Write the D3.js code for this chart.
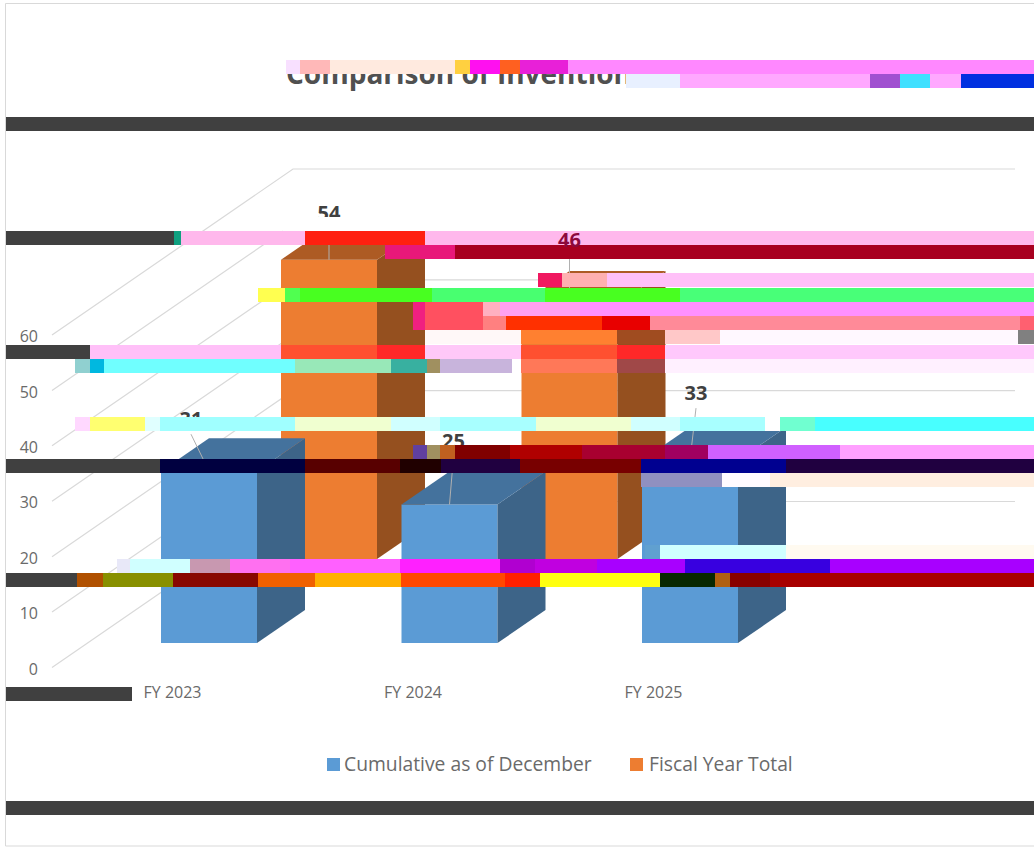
<!DOCTYPE html>
<html>
<head>
<meta charset="utf-8">
<script src="https://cdn.jsdelivr.net/npm/d3@7"></script>
<style>
html,body{margin:0;padding:0;background:#fff;overflow:hidden}
svg{display:block}
text{font-family:"Open Sans",sans-serif}
</style>
</head>
<body>
<svg id="c" width="1034" height="848"></svg>
<script>
const categories = ["FY 2023", "FY 2024", "FY 2025"];
const cumulative = [31, 25, 33];
const fiscalTotal = [54, 46, null];
const seriesNames = ["Cumulative as of December", "Fiscal Year Total"];
const yTicks = [0, 10, 20, 30, 40, 50, 60];
const titleText = "Comparison of Invention";

// Corrupted scan-line rows of the picture: top y, then [x0, x1, colour] runs
const rows = [
 [60,[[286,300,"#f8e0ff"],[300,330,"#ffb8b8"],[330,455,"#ffeadf"],[455,470,"#ffd040"],[470,500,"#ff10f0"],[500,520,"#ff6020"],[520,568,"#e820d8"],[568,1034,"#ff88ff"]]],
 [74,[[626,680,"#e8f0ff"],[680,870,"#ffa8ff"],[870,900,"#a050d0"],[900,930,"#40e0ff"],[930,961,"#ffa8ff"],[961,1034,"#0030e0"]]],
 [117,[[6,1034,"#404040"]]],
 [217,[[283,1034,"#ffffff"]]],
 [231,[[6,174,"#404040"],[174,181,"#10a080"],[181,305,"#ffb8ec"],[305,425,"#ff2010"],[425,1034,"#ffb8ec"]]],
 [245,[[385,455,"#e8187a"],[455,1034,"#a80020"]]],
 [273,[[538,562,"#f01860"],[562,607,"#ffb0b0"],[607,1034,"#ffc0f8"]]],
 [288,[[258,285,"#ffff50"],[285,300,"#50ff50"],[300,432,"#48ff20"],[432,545,"#48ff70"],[545,680,"#48ff20"],[680,1034,"#48ff78"]]],
 [302,[[413,425,"#f02080"],[425,483,"#ff5060"],[483,500,"#ffb0c0"],[500,580,"#ffa0f0"],[580,1034,"#ff90ff"]]],
 [316,[[413,425,"#f02080"],[425,483,"#ff5060"],[483,506,"#ff8080"],[506,602,"#ff3000"],[602,650,"#e80000"],[650,1020,"#ff8a98"],[1020,1034,"#ff6070"]]],
 [330,[[425,521,"#fff8f8"],[521,617,"#ff8030"],[617,665,"#a04c20"],[665,720,"#ffc8c8"],[720,1018,"#fff8ff"],[1018,1034,"#808080"]]],
 [345,[[6,90,"#404040"],[90,281,"#ffc0f8"],[281,377,"#ff5030"],[377,425,"#ff2828"],[425,521,"#ffc8f8"],[521,617,"#ff5030"],[617,665,"#ff2828"],[665,1034,"#ffc8fc"]]],
 [359,[[75,90,"#90d0d0"],[90,104,"#00b8e0"],[104,295,"#70ffff"],[295,391,"#98e8b8"],[391,427,"#38b0a0"],[427,440,"#a09060"],[440,512,"#c8b4dc"],[512,521,"#ffffff"],[521,617,"#ff7858"],[617,665,"#a04848"],[665,1034,"#fff0ff"]]],
 [417,[[75,90,"#ffd8ff"],[90,145,"#ffff70"],[145,160,"#e0ffff"],[160,295,"#a0ffff"],[295,391,"#f0ffd0"],[391,440,"#d0ffff"],[440,536,"#a8ffff"],[536,631,"#f0ffd0"],[631,680,"#d0ffff"],[680,765,"#a8ffff"],[765,780,"#ffffff"],[780,815,"#70ffd0"],[815,1034,"#48ffff"]]],
 [445,[[413,427,"#6040a0"],[427,440,"#a09060"],[440,455,"#c06020"],[455,510,"#800000"],[510,582,"#b00000"],[582,665,"#a80030"],[665,708,"#a00060"],[708,840,"#d060ff"],[840,1034,"#ffa0ff"]]],
 [459,[[6,160,"#404040"],[160,305,"#000040"],[305,400,"#580000"],[400,441,"#200000"],[441,520,"#200040"],[520,641,"#780000"],[641,786,"#000090"],[786,1034,"#200040"]]],
 [473,[[641,722,"#9090c0"],[722,770,"#fffaff"],[770,1034,"#ffeee0"]]],
 [545,[[645,660,"#60a0d0"],[660,786,"#d0ffff"],[786,1034,"#fffaf0"]]],
 [559,[[117,130,"#e8e8f8"],[130,190,"#d0ffff"],[190,230,"#c898b0"],[230,290,"#ff70f0"],[290,400,"#ff60ff"],[400,500,"#ff20ff"],[500,535,"#b000d0"],[535,597,"#c000e0"],[597,685,"#a800ff"],[685,830,"#3800e0"],[830,1034,"#a800ff"]]],
 [573,[[6,77,"#404040"],[77,103,"#b05000"],[103,173,"#889000"],[173,258,"#880800"],[258,315,"#f06000"],[315,401,"#ffb000"],[401,505,"#ff4800"],[505,540,"#ff2000"],[540,660,"#ffff10"],[660,715,"#082800"],[715,730,"#b06010"],[730,770,"#880000"],[770,1034,"#a80000"]]],
 [687,[[6,132,"#404040"]]],
 [801,[[6,1034,"#404040"]]]
];

const svg = d3.select("#c");
const BLUE = "#5b9bd5", BLUE_TOP = "#44729d", BLUE_SIDE = "#3d6488";
const ORANGE = "#ed7d31", ORANGE_TOP = "#ad5b24", ORANGE_SIDE = "#95501f";
const GREY = "#6a6a6a";

// frame
svg.append("path").attr("d", "M1034 3.5H5.5V846H1034").attr("fill", "none").attr("stroke", "#d9d9d9");

// value scale on the front plane (height above the front floor edge)
const yFront = d3.scaleLinear().domain([0, 60]).range([667.5, 335]);
const wallDx = 241, wallDy = -166, wallRight = 1015, wallLeft = 52;

// gridlines along the side wall and the back wall
svg.append("g").selectAll("path").data(yTicks).join("path")
  .attr("fill", "none").attr("stroke", "#d9d9d9").attr("stroke-width", 1.2)
  .attr("d", v => d3.line()([[wallLeft, yFront(v)], [wallLeft + wallDx, yFront(v) + wallDy], [wallRight, yFront(v) + wallDy]]));

// axes
const yAxis = d3.axisLeft(yFront).tickValues(yTicks).tickSize(0).tickPadding(0);
const yG = svg.append("g").attr("transform", "translate(38,1.5)").call(yAxis);
yG.select(".domain").remove();
yG.selectAll("text").attr("font-size", 16).attr("fill", GREY).attr("font-family", '"Open Sans",sans-serif');

const x = d3.scalePoint().domain(categories).range([209, 690]);
const xAxis = d3.axisBottom(x).tickSize(0).tickPadding(0);
const xG = svg.append("g").attr("transform", "translate(-37,687)").call(xAxis);
xG.select(".domain").remove();
xG.selectAll("text").attr("font-size", 16).attr("fill", GREY).attr("font-family", '"Open Sans",sans-serif');

// 3D bars
const barW = 96, depthX = 48, depthY = -33;
const valueH = d3.scaleLinear().domain([0, 60]).range([0, 332.5]);
function bar(g, cx, baseY, v, front, top, side) {
  const l = cx - barW / 2, r = cx + barW / 2, t = baseY - valueH(v);
  const poly = pts => g.append("polygon").attr("points", pts.map(p => p.join(",")).join(" "));
  poly([[l, baseY], [r, baseY], [r, t], [l, t]]).attr("fill", front);
  poly([[r, baseY], [r + depthX, baseY + depthY], [r + depthX, t + depthY], [r, t]]).attr("fill", side);
  poly([[l, t], [r, t], [r + depthX, t + depthY], [l + depthX, t + depthY]]).attr("fill", top);
}
const orangeShiftX = 120, orangeBase = 559, blueBase = 643;
const gO = svg.append("g"), gB = svg.append("g");
categories.forEach((c, i) => {
  if (fiscalTotal[i] != null) bar(gO, x(c) + orangeShiftX, orangeBase, fiscalTotal[i], ORANGE, ORANGE_TOP, ORANGE_SIDE);
});
categories.forEach((c, i) => {
  if (cumulative[i] != null) bar(gB, x(c), blueBase, cumulative[i], BLUE, BLUE_TOP, BLUE_SIDE);
});

// data labels with leader lines: [series values, index, label dx, baseline above bar top, line start below baseline, colour]
const labelLayout = [
  [fiscalTotal, 0, orangeShiftX, orangeBase, 0, 40, 7, "#404040"],
  [fiscalTotal, 1, orangeShiftX, orangeBase, 0, 57, 12, "#8c0a3c"],
  [cumulative, 0, 0, blueBase, -18, 45, 8, "#404040"],
  [cumulative, 1, 0, blueBase, 4, 56, 8, "#404040"],
  [cumulative, 2, 0, blueBase, 6, 60, 8, "#404040"]
];
const lines = svg.append("g"), later = [];
labelLayout.forEach(([s, i, sx, base, dx, up, gap, col]) => {
  const cx = x(categories[i]) + sx, t = base - valueH(s[i]);
  lines.append("line").attr("x1", cx + dx).attr("y1", t - up + gap).attr("x2", cx).attr("y2", t)
    .attr("stroke", "#b0b0b0").attr("stroke-width", 1);
  later.push({ x: cx + dx, y: t - up, v: s[i], col });
});
const labelDraw = (arr) => svg.append("g").selectAll("text").data(arr).join("text")
  .attr("x", d => d.x).attr("y", d => d.y).attr("text-anchor", "middle")
  .attr("font-size", 20).attr("font-weight", 700).attr("fill", d => d.col).text(d => d.v);
labelDraw(later.filter(d => d.v !== 46));

// title
svg.append("text").attr("x", 286).attr("y", 84).attr("font-size", 28).attr("font-weight", 700)
  .attr("fill", "#505050").text(titleText);

// legend
const legendG = svg.append("g");
const legendPos = [[327, 344], [630, 649]];
seriesNames.forEach((n, i) => {
  legendG.append("rect").attr("x", legendPos[i][0]).attr("y", 758).attr("width", 13).attr("height", 13)
    .attr("fill", i ? ORANGE : BLUE);
  legendG.append("text").attr("x", legendPos[i][1]).attr("y", 771).attr("font-size", 19.3).attr("fill", GREY).text(n);
});

// corrupted rows over the picture
const rowG = svg.append("g");
rows.forEach(([y, runs]) => {
  rowG.selectAll(null).data(runs).join("rect")
    .attr("x", d => d[0]).attr("y", y).attr("width", d => d[1] - d[0]).attr("height", 14)
    .attr("fill", d => d[2]);
});
labelDraw(later.filter(d => d.v === 46));
</script>
</body>
</html>
